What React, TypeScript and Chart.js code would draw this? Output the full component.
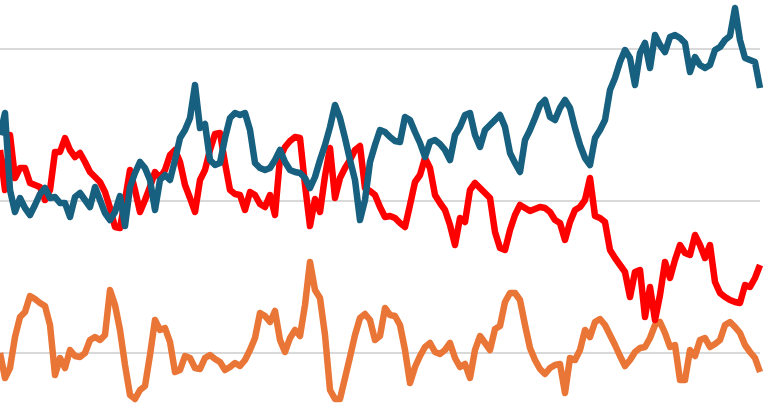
import React, { useEffect, useRef } from "react";
import { Chart, registerables } from "chart.js";

Chart.register(...registerables);

// Values (one point per step, 153 steps)
const blueSeries = [
  218, 240, 163, 141, 155, 145, 138, 148, 159, 165,
  155, 156, 150, 150, 136, 156, 160, 153, 146, 166,
  153, 140, 133, 141, 157, 127, 166, 180, 191, 185,
  173, 143, 173, 178, 173, 193, 215, 223, 235, 268,
  225, 229, 193, 188, 190, 215, 235, 240, 238, 240,
  223, 190, 185, 183, 185, 193, 203, 191, 183, 181,
  180, 175, 165, 176, 193, 208, 226, 248, 235, 215,
  193, 173, 133, 153, 191, 208, 223, 221, 216, 212,
  211, 236, 233, 221, 210, 196, 211, 213, 209, 203,
  193, 218, 226, 238, 240, 218, 206, 223, 228, 233,
  238, 226, 200, 190, 181, 213, 223, 235, 248, 253,
  236, 233, 245, 253, 245, 225, 208, 195, 188, 215,
  223, 233, 263, 275, 291, 303, 295, 268, 300, 310,
  285, 318, 308, 301, 316, 318, 315, 310, 281, 296,
  288, 285, 288, 303, 306, 313, 317, 345, 313, 295,
  293, 291, 265,
];

const redSeries = [
  203, 163, 218, 175, 185, 185, 170, 168, 166, 153,
  163, 201, 201, 215, 203, 196, 200, 191, 181, 176,
  171, 161, 145, 126, 125, 153, 183, 163, 141, 153,
  166, 181, 175, 183, 198, 203, 191, 168, 155, 141,
  173, 183, 203, 219, 220, 190, 163, 159, 158, 143,
  161, 158, 149, 146, 158, 138, 195, 206, 212, 216,
  215, 168, 127, 154, 141, 177, 205, 155, 175, 185,
  193, 203, 207, 165, 162, 158, 146, 136, 137, 135,
  130, 126, 148, 171, 178, 195, 185, 158, 150, 143,
  128, 108, 135, 131, 163, 170, 165, 160, 155, 121,
  105, 103, 123, 138, 148, 145, 142, 144, 146, 145,
  141, 133, 130, 113, 131, 143, 146, 153, 175, 137,
  135, 131, 103, 95, 88, 81, 56, 81, 83, 36,
  66, 33, 58, 91, 75, 93, 108, 100, 98, 118,
  108, 95, 108, 71, 60, 56, 53, 51, 50, 68,
  66, 75, 88,
];

const orangeSeries = [
  0, -25, -15, 16, 36, 41, 57, 54, 50, 47,
  28, -22, -5, -15, 3, -3, -4, 0, 13, 16,
  13, 18, 63, 48, 23, -12, -42, -46, -37, -33,
  -2, 33, 23, 25, 11, -19, -17, -3, -5, -15,
  -16, -5, -2, -6, -9, -17, -14, -10, -13, -7,
  3, 15, 40, 37, 31, 42, 13, 1, 15, 23,
  17, 48, 91, 63, 55, 18, -37, -46, -46, -25,
  -4, 18, 35, 39, 33, 13, 17, 45, 38, 37,
  28, 3, -30, -14, -3, 6, 10, 1, -1, 3,
  10, -5, -14, -11, -25, 3, 17, 10, 3, 24,
  27, 51, 60, 60, 53, 28, 5, -7, -16, -21,
  -15, -12, -11, -40, -5, -7, 3, 23, 16, 31,
  34, 28, 18, 8, -3, -13, -7, 1, 5, 6,
  15, 28, 31, 20, 6, 8, -27, -27, 3, -3,
  13, 15, 6, 9, 13, 28, 31, 26, 20, 8,
  1, -5, -19,
];

const gridValues = [0, 152, 304];
const yMin = -59;
const yMax = 353;

const labels = blueSeries.map((_, i) => String(i));

export default function App() {
  const ref = useRef<HTMLCanvasElement | null>(null);

  useEffect(() => {
    if (!ref.current) return;
    const lineStyle = {
      borderWidth: 6.5,
      borderJoinStyle: "round" as const,
      borderCapStyle: "butt" as const,
      pointRadius: 0,
      fill: false,
      tension: 0,
    };
    const chart = new Chart(ref.current, {
      type: "line",
      data: {
        labels,
        datasets: [
          { label: "Blue", data: blueSeries, borderColor: "#17607f", ...lineStyle },
          { label: "Red", data: redSeries, borderColor: "#ff0000", ...lineStyle },
          { label: "Orange", data: orangeSeries, borderColor: "#e97537", ...lineStyle },
        ],
      },
      options: {
        responsive: false,
        maintainAspectRatio: false,
        animation: false,
        layout: { padding: { left: 0, right: 8, top: 0, bottom: 0 } },
        plugins: {
          legend: { display: false },
          tooltip: { enabled: false },
        },
        scales: {
          x: { display: false },
          y: {
            min: yMin,
            max: yMax,
            afterBuildTicks: (axis: any) => {
              axis.ticks = gridValues.map((v) => ({ value: v }));
            },
            ticks: { display: false },
            grid: { color: "#d9d9d9", lineWidth: 2, drawTicks: false },
            border: { display: false },
          },
        },
      },
    });
    return () => chart.destroy();
  }, []);

  return (
    <div style={{ position: "fixed", left: 0, top: 0, width: 768, height: 412, background: "#fff" }}>
      <canvas ref={ref} width={768} height={412} style={{ display: "block" }} />
    </div>
  );
}
